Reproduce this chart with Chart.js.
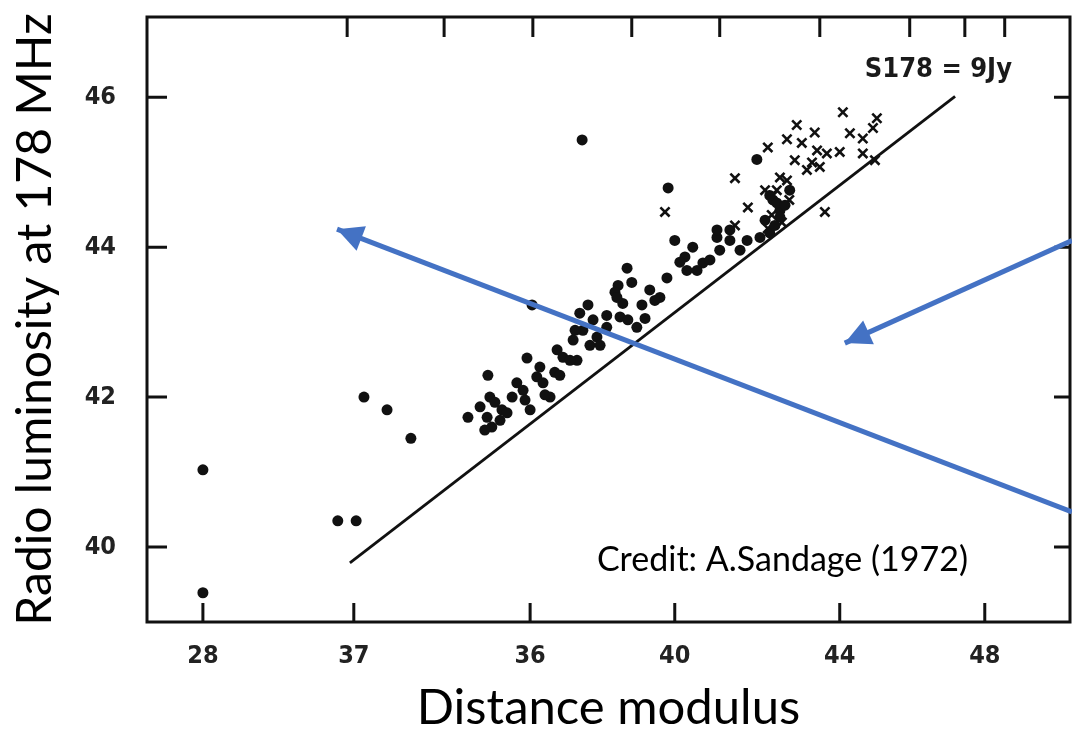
<!DOCTYPE html>
<html>
<head>
<meta charset="utf-8">
<title>Radio luminosity vs distance modulus</title>
<script src="https://cdn.jsdelivr.net/npm/chart.js@4.4.1/dist/chart.umd.min.js"></script>
<style>
  html, body { margin: 0; padding: 0; background: #fff; }
  #wrap { width: 1072px; height: 738px; }
</style>
</head>
<body>
<div id="wrap"><canvas id="sandage"></canvas></div>
<script>
// values: x = distance modulus, y = log radio luminosity (178 MHz)
var dotX = [28.00, 28.00, 31.45, 31.92, 32.12, 32.71, 33.32, 37.70, 39.90, 34.78,
            35.29, 35.34, 35.39, 35.27, 35.09, 35.65, 35.78, 35.91, 36.03, 36.19,
            36.29, 36.37, 36.54, 36.62, 36.70, 36.88, 37.00, 37.06, 37.21, 37.57,
            37.47, 37.72, 37.64, 37.85, 38.08, 38.33, 38.67, 37.52, 37.98, 38.33,
            38.62, 38.54, 38.85, 38.97, 38.74, 38.59, 39.23, 39.43, 39.69, 39.10,
            39.87, 40.07, 40.33, 40.53, 40.38, 40.79, 41.15, 41.15, 41.48, 41.48,
            41.92, 42.17, 42.25, 42.50, 42.58, 42.76, 42.76, 42.68, 36.42,
            42.50, 42.63, 42.89, 42.38, 43.01, 41.74, 40.97, 41.22, 40.64, 40.20,
            39.56, 39.31, 38.87, 38.16, 37.90, 37.39, 37.13, 36.75, 36.24, 35.60,
            35.21, 35.47];
var dotY = [41.03, 39.39, 40.35, 40.35, 42.00, 41.83, 41.45, 45.43, 44.79, 41.73,
            42.29, 42.00, 41.60, 41.73, 41.87, 41.83, 41.79, 42.00, 42.19, 42.09,
            42.52, 41.83, 42.27, 42.40, 42.19, 42.00, 42.33, 42.63, 42.53, 42.49,
            42.76, 42.89, 43.12, 43.23, 42.80, 42.93, 43.07, 42.89, 43.03, 43.09,
            43.49, 43.40, 43.72, 43.53, 43.25, 43.33, 43.23, 43.43, 43.33, 42.93,
            43.59, 44.09, 43.87, 44.00, 43.69, 43.79, 44.13, 44.23, 44.09, 44.23,
            44.09, 45.17, 44.13, 44.19, 44.63, 44.49, 44.40, 44.59, 43.23,
            44.69, 44.29, 44.56, 44.36, 44.76, 43.96, 43.83, 43.96, 43.69, 43.80,
            43.29, 43.05, 43.03, 42.69, 42.69, 42.49, 42.29, 42.03, 41.96, 41.69,
            41.56, 41.93];

var crossX = [39.82, 41.61, 41.94, 42.38, 42.94, 41.61, 44.37, 45.24, 43.19, 43.65,
              42.94, 42.45, 43.14, 43.32, 43.71, 43.96, 44.29, 44.55, 44.88, 45.14,
              44.88, 45.19, 43.58, 43.91, 42.76, 43.45, 43.78, 42.68, 42.55, 43.00,
              42.58, 42.81, 42.45];
var crossY = [44.47, 44.92, 44.53, 44.76, 44.89, 44.29, 45.80, 45.72, 45.63, 45.53,
              45.44, 45.33, 45.16, 45.39, 45.29, 45.25, 45.27, 45.52, 45.45, 45.59,
              45.25, 45.16, 45.13, 44.47, 44.93, 45.03, 45.07, 44.76, 44.43, 44.63,
              44.69, 44.33, 44.25];

// S178 = 9 Jy limit line
var limitX = [31.76, 47.24];
var limitY = [39.79, 46.01];

// axis ticks (the scan's tick marks are not quite evenly spaced)
var xTickValues = [28.00, 31.86, 36.37, 40.07, 44.29, 48.00];
var xTickLabels = ['28', '37', '36', '40', '44', '48'];
var yTickValues = [40, 42, 44, 46];
var yTickLabels = ['40', '42', '44', '46'];
var topTickValues = [31.69, 34.17, 36.44, 38.97, 41.22, 43.78, 46.08, 47.49, 48.51];

// blue arrows drawn over the slide (tail -> head)
var arrow1X = [50.23, 31.43];
var arrow1Y = [40.47, 44.24];
var arrow2X = [50.23, 44.42];
var arrow2Y = [44.09, 42.72];

function pairs(xs, ys) {
  return xs.map(function (x, i) { return { x: x, y: ys[i] }; });
}

var BLUE = '#4472C4';
var INK = '#111111';

var scanFrame = {
  id: 'scanFrame',
  beforeDatasetsDraw: function (chart) {
    var ctx = chart.ctx, a = chart.chartArea;
    var xs = chart.scales.x, ys = chart.scales.y;
    ctx.save();
    ctx.strokeStyle = INK;
    ctx.lineWidth = 3;
    ctx.strokeRect(a.left, a.top, a.right - a.left, a.bottom - a.top);
    ctx.beginPath();
    xTickValues.forEach(function (v) {
      var p = xs.getPixelForValue(v);
      ctx.moveTo(p, a.bottom); ctx.lineTo(p, a.bottom - 19);
    });
    topTickValues.forEach(function (v) {
      var p = xs.getPixelForValue(v);
      ctx.moveTo(p, a.top); ctx.lineTo(p, a.top + 20);
    });
    yTickValues.forEach(function (v) {
      var p = ys.getPixelForValue(v);
      ctx.moveTo(a.left, p); ctx.lineTo(a.left + 20, p);
      ctx.moveTo(a.right, p); ctx.lineTo(a.right - 16, p);
    });
    ctx.stroke();
    ctx.restore();
  },
  afterDatasetsDraw: function (chart) {
    var ctx = chart.ctx;
    var xs = chart.scales.x, ys = chart.scales.y;
    ctx.save();
    // arrow heads
    chart.data.datasets.forEach(function (ds, i) {
      if (!ds.arrow) return;
      var pts = chart.getDatasetMeta(i).data;
      var tail = pts[0], tip = pts[pts.length - 1];
      var ang = Math.atan2(tip.y - tail.y, tip.x - tail.x);
      var len = 26, half = 13;
      var bx = tip.x - len * Math.cos(ang), by = tip.y - len * Math.sin(ang);
      ctx.fillStyle = BLUE;
      ctx.beginPath();
      ctx.moveTo(tip.x, tip.y);
      ctx.lineTo(bx - half * Math.sin(ang), by + half * Math.cos(ang));
      ctx.lineTo(bx + half * Math.sin(ang), by - half * Math.cos(ang));
      ctx.closePath();
      ctx.fill();
    });
    // labels
    ctx.fillStyle = '#1a1a1a';
    ctx.textBaseline = 'middle';
    ctx.textAlign = 'left';
    ctx.font = 'bold 27px "DejaVu Sans Condensed", "DejaVu Sans", sans-serif';
    ctx.fillText('S178 = 9Jy', xs.getPixelForValue(44.93), ys.getPixelForValue(46.36));
    ctx.fillStyle = '#000';
    ctx.font = '34px Lato, "Open Sans", sans-serif';
    ctx.fillText('Credit: A.Sandage (1972)', xs.getPixelForValue(38.08), ys.getPixelForValue(39.83));
    ctx.restore();
  }
};

var tickFont = { family: '"DejaVu Sans Condensed", "DejaVu Sans", sans-serif', size: 25, weight: 'bold' };

var config = {
  type: 'scatter',
  data: {
    datasets: [
      {
        label: 'arrow 1', arrow: true, data: pairs(arrow1X, arrow1Y),
        showLine: true, borderColor: BLUE, borderWidth: 5, pointRadius: 0,
        clip: false, order: 0
      },
      {
        label: 'arrow 2', arrow: true, data: pairs(arrow2X, arrow2Y),
        showLine: true, borderColor: BLUE, borderWidth: 5, pointRadius: 0,
        clip: false, order: 0
      },
      {
        label: 'S178 = 9 Jy', data: pairs(limitX, limitY),
        showLine: true, borderColor: INK, borderWidth: 2.8, pointRadius: 0, order: 2
      },
      {
        label: 'radio galaxies', data: pairs(dotX, dotY),
        pointStyle: 'circle', pointRadius: 5.5, backgroundColor: INK, borderWidth: 0, order: 1
      },
      {
        label: 'quasars', data: pairs(crossX, crossY),
        pointStyle: 'crossRot', pointRadius: 6.5, borderColor: INK, borderWidth: 2.6, order: 1
      }
    ]
  },
  options: {
    responsive: true,
    maintainAspectRatio: false,
    animation: false,
    layout: { autoPadding: false, padding: { top: 17, right: 2, left: 0, bottom: 0 } },
    plugins: { legend: { display: false }, tooltip: { enabled: false } },
    scales: {
      x: {
        type: 'linear', min: 26.57, max: 50.18,
        afterFit: function (s) { s.height = 116; s.paddingLeft = 0; s.paddingRight = 0; },
        afterBuildTicks: function (s) { s.ticks = xTickValues.map(function (v) { return { value: v }; }); },
        grid: { display: false, drawTicks: false },
        border: { display: false },
        ticks: {
          padding: 19, color: '#222', font: tickFont,
          callback: function (v, i) { return xTickLabels[i]; }
        },
        title: {
          display: true, text: 'Distance modulus', color: '#000',
          font: { family: 'Lato, "Open Sans", sans-serif', size: 49 },
          padding: { top: 0, bottom: 0 }
        }
      },
      y: {
        type: 'linear', min: 39.0, max: 47.07,
        afterFit: function (s) { s.width = 147; s.paddingTop = 0; s.paddingBottom = 0; },
        afterBuildTicks: function (s) { s.ticks = yTickValues.map(function (v) { return { value: v }; }); },
        grid: { display: false, drawTicks: false },
        border: { display: false },
        ticks: {
          padding: 31, color: '#222', font: tickFont,
          callback: function (v, i) { return yTickLabels[i]; }
        },
        title: {
          display: true, text: 'Radio luminosity at 178 MHz', color: '#000',
          font: { family: 'Lato, "Open Sans", sans-serif', size: 48 },
          padding: { top: 7, bottom: 0 }
        }
      }
    }
  },
  plugins: [scanFrame]
};

var ctx = document.getElementById('sandage').getContext('2d');
var sandageChart = new Chart(ctx, config);
</script>
</body>
</html>
